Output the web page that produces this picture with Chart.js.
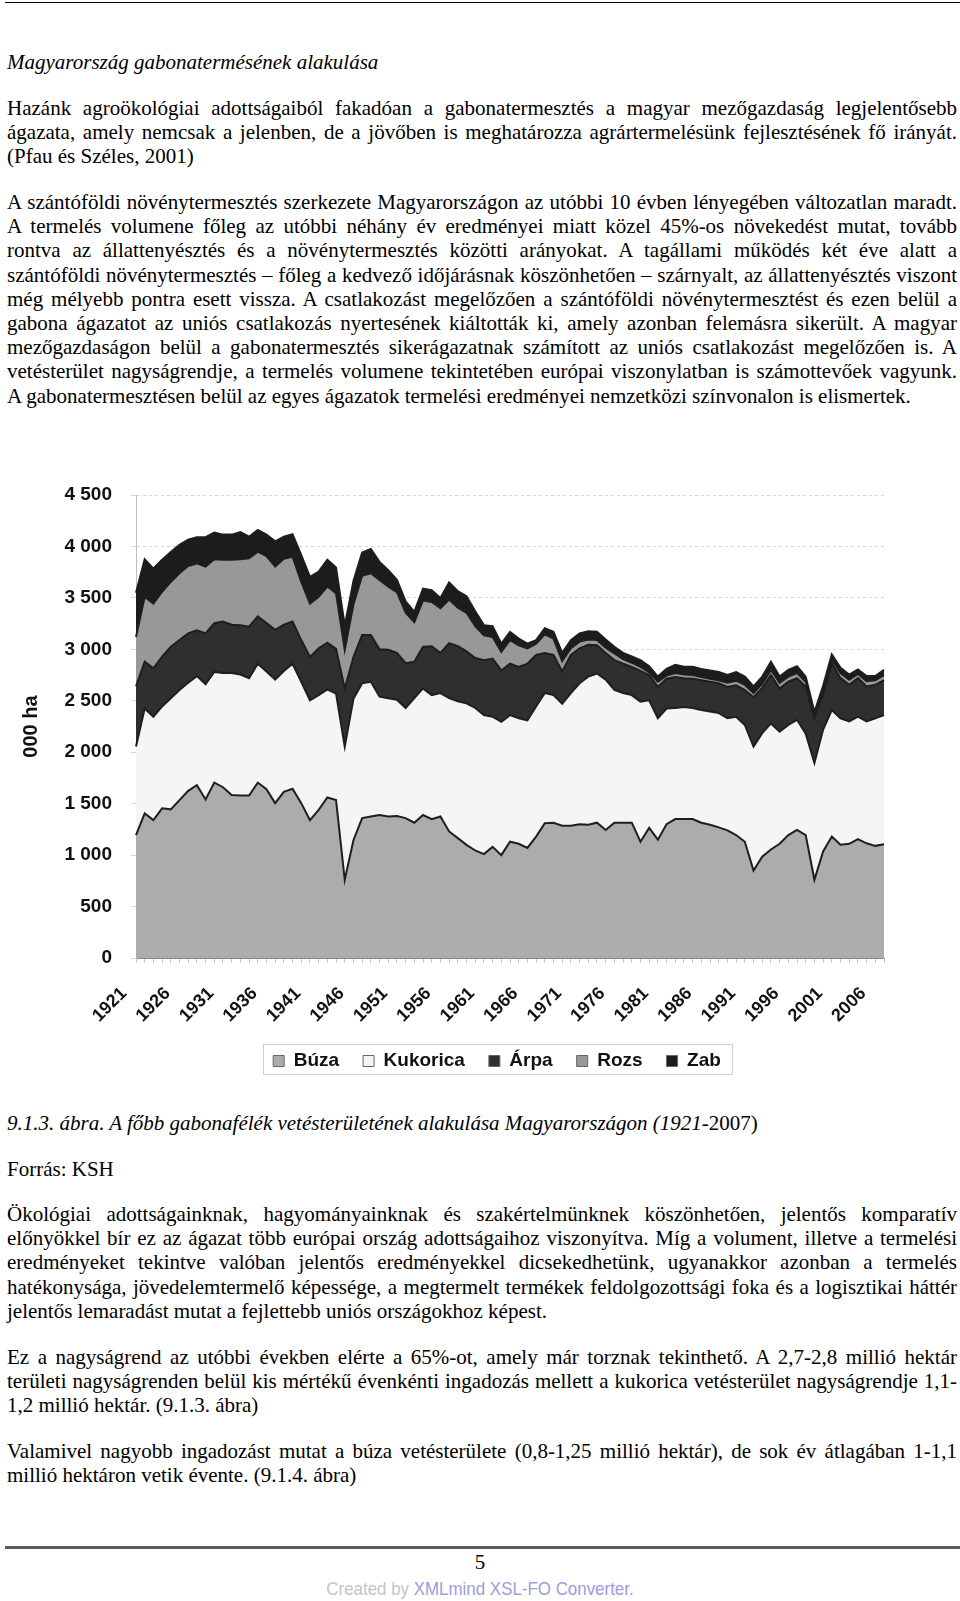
<!DOCTYPE html>
<html lang="hu">
<head>
<meta charset="utf-8">
<title>Magyarország gabonatermésének alakulása</title>
<script src="https://cdn.jsdelivr.net/npm/chart.js@4.4.1/dist/chart.umd.min.js"></script>
<style>
  html, body { margin: 0; padding: 0; background: #fff; }
  body {
    width: 960px; height: 1601px; position: relative; overflow: hidden;
    font-family: "Liberation Serif", "Times New Roman", serif; font-size: 21px; color: #000;
  }
  .rule { position: absolute; left: 5px; width: 955px; }
  .blk { position: absolute; left: 7px; width: 950px; line-height: 24.2px; }
  .blk div { text-align: justify; text-align-last: justify; }
  .blk div.last { text-align-last: left; }
  #chartBox { position: absolute; left: 0; top: 440px; width: 960px; height: 647px; }
  .foot { position: absolute; left: 0; width: 960px; text-align: center; }
  .made {
    font-family: "Liberation Sans", Arial, sans-serif; font-size: 19px; color: #c4c4c4;
    transform: scaleX(0.89); transform-origin: 480px 0;
  }
  .made span { color: #9c9cdc; }
</style>
</head>
<body>

<div class="rule" style="top:2px; height:1px; background:#000;"></div>

<div class="blk" style="top:50px;"><div class="last"><i>Magyarország gabonatermésének alakulása</i></div></div>

<div class="blk" style="top:96px;">
  <div>Hazánk agroökológiai adottságaiból fakadóan a gabonatermesztés a magyar mezőgazdaság legjelentősebb</div>
  <div>ágazata, amely nemcsak a jelenben, de a jövőben is meghatározza agrártermelésünk fejlesztésének fő irányát.</div>
  <div class="last">(Pfau és Széles, 2001)</div>
</div>

<div class="blk" style="top:190px;">
  <div>A szántóföldi növénytermesztés szerkezete Magyarországon az utóbbi 10 évben lényegében változatlan maradt.</div>
  <div>A termelés volumene főleg az utóbbi néhány év eredményei miatt közel 45%-os növekedést mutat, tovább</div>
  <div>rontva az állattenyésztés és a növénytermesztés közötti arányokat. A tagállami működés két éve alatt a</div>
  <div>szántóföldi növénytermesztés – főleg a kedvező időjárásnak köszönhetően – szárnyalt, az állattenyésztés viszont</div>
  <div>még mélyebb pontra esett vissza. A csatlakozást megelőzően a szántóföldi növénytermesztést és ezen belül a</div>
  <div>gabona ágazatot az uniós csatlakozás nyertesének kiáltották ki, amely azonban felemásra sikerült. A magyar</div>
  <div>mezőgazdaságon belül a gabonatermesztés sikerágazatnak számított az uniós csatlakozást megelőzően is. A</div>
  <div>vetésterület nagyságrendje, a termelés volumene tekintetében európai viszonylatban is számottevőek vagyunk.</div>
  <div class="last">A gabonatermesztésen belül az egyes ágazatok termelési eredményei nemzetközi színvonalon is elismertek.</div>
</div>

<div id="chartBox"><canvas id="grainChart" width="960" height="647"></canvas></div>

<div class="blk" style="top:1111px;"><div class="last"><i>9.1.3. ábra. A főbb gabonafélék vetésterületének alakulása Magyarországon (1921-</i>2007)</div></div>
<div class="blk" style="top:1157px;"><div class="last">Forrás: KSH</div></div>

<div class="blk" style="top:1202px;">
  <div>Ökológiai adottságainknak, hagyományainknak és szakértelmünknek köszönhetően, jelentős komparatív</div>
  <div>előnyökkel bír ez az ágazat több európai ország adottságaihoz viszonyítva. Míg a volument, illetve a termelési</div>
  <div>eredményeket tekintve valóban jelentős eredményekkel dicsekedhetünk, ugyanakkor azonban a termelés</div>
  <div>hatékonysága, jövedelemtermelő képessége, a megtermelt termékek feldolgozottsági foka és a logisztikai háttér</div>
  <div class="last">jelentős lemaradást mutat a fejlettebb uniós országokhoz képest.</div>
</div>

<div class="blk" style="top:1345px;">
  <div>Ez a nagyságrend az utóbbi években elérte a 65%-ot, amely már torznak tekinthető. A 2,7-2,8 millió hektár</div>
  <div>területi nagyságrenden belül kis mértékű évenkénti ingadozás mellett a kukorica vetésterület nagyságrendje 1,1-</div>
  <div class="last">1,2 millió hektár. (9.1.3. ábra)</div>
</div>

<div class="blk" style="top:1439px;">
  <div>Valamivel nagyobb ingadozást mutat a búza vetésterülete (0,8-1,25 millió hektár), de sok év átlagában 1-1,1</div>
  <div class="last">millió hektáron vetik évente. (9.1.4. ábra)</div>
</div>

<div class="rule" style="top:1546px; height:3px; background:#5a5a5a;"></div>
<div class="foot" style="top:1550px; line-height:24px;">5</div>
<div class="foot made" style="top:1578px; line-height:22px;">Created by <span>XMLmind XSL-FO Converter.</span></div>

<script>
// vetésterület, ezer ha (1921-2007)
const years = [
  1921, 1922, 1923, 1924, 1925, 1926, 1927, 1928, 1929, 1930,
  1931, 1932, 1933, 1934, 1935, 1936, 1937, 1938, 1939, 1940,
  1941, 1942, 1943, 1944, 1945, 1946, 1947, 1948, 1949, 1950,
  1951, 1952, 1953, 1954, 1955, 1956, 1957, 1958, 1959, 1960,
  1961, 1962, 1963, 1964, 1965, 1966, 1967, 1968, 1969, 1970,
  1971, 1972, 1973, 1974, 1975, 1976, 1977, 1978, 1979, 1980,
  1981, 1982, 1983, 1984, 1985, 1986, 1987, 1988, 1989, 1990,
  1991, 1992, 1993, 1994, 1995, 1996, 1997, 1998, 1999, 2000,
  2001, 2002, 2003, 2004, 2005, 2006, 2007
];

const buza = [
  1195, 1405, 1340, 1455, 1445, 1535, 1625, 1680, 1540, 1705,
  1660, 1585, 1580, 1580, 1705, 1640, 1505, 1615, 1645, 1505,
  1340, 1440, 1560, 1535, 760, 1145, 1360, 1375, 1390, 1375,
  1380, 1360, 1315, 1390, 1350, 1375, 1230, 1165, 1100, 1045,
  1010, 1080, 1000, 1130, 1110, 1070, 1180, 1310, 1315, 1285,
  1285, 1300, 1295, 1315, 1245, 1315, 1315, 1315, 1130, 1265,
  1150, 1300, 1350, 1350, 1350, 1315, 1295, 1270, 1240, 1195,
  1130, 850, 985, 1055, 1110, 1195, 1245, 1195, 760, 1035,
  1180, 1100, 1110, 1155, 1115, 1090, 1105
];

const kukorica = [
  860, 1020, 1005, 990, 1080, 1070, 1050, 1060, 1120, 1075,
  1110, 1185, 1175, 1140, 1155, 1145, 1200, 1175, 1215, 1180,
  1165, 1115, 1050, 1035, 1295, 1375, 1310, 1310, 1150, 1150,
  1130, 1070, 1210, 1230, 1205, 1200, 1295, 1330, 1375, 1385,
  1350, 1265, 1295, 1230, 1220, 1240, 1265, 1265, 1240, 1185,
  1290, 1370, 1440, 1450, 1460, 1290, 1260, 1240, 1360, 1240,
  1180, 1125, 1080, 1090, 1080, 1095, 1100, 1110, 1090, 1150,
  1135, 1205, 1200, 1225, 1090, 1070, 1070, 985, 1135, 1185,
  1230, 1230, 1190, 1190, 1185, 1240, 1255
];

const arpa = [
  585, 455, 470, 485, 500, 485, 480, 445, 495, 475,
  500, 470, 480, 500, 460, 470, 485, 450, 410, 405,
  420, 455, 455, 435, 565, 405, 470, 455, 460, 470,
  455, 435, 355, 405, 475, 390, 535, 535, 505, 485,
  535, 565, 500, 500, 500, 550, 500, 390, 390, 315,
  370, 340, 310, 275, 260, 290, 285, 275, 300, 245,
  305, 290, 300, 280, 285, 290, 290, 290, 305, 305,
  340, 480, 440, 470, 420, 420, 405, 455, 440, 340,
  455, 390, 355, 375, 340, 325, 340
];

const rozs = [
  480, 630, 630, 630, 630, 650, 655, 650, 650, 620,
  600, 630, 640, 665, 630, 650, 615, 640, 630, 565,
  520, 500, 545, 540, 375, 510, 575, 600, 675, 615,
  590, 490, 385, 450, 430, 435, 425, 375, 375, 310,
  240, 210, 180, 230, 210, 150, 110, 180, 160, 100,
  65, 65, 50, 50, 50, 65, 45, 40, 40, 25,
  50, 30, 40, 35, 35, 30, 30, 30, 40, 45,
  50, 40, 40, 50, 55, 50, 50, 50, 20, 35,
  35, 50, 50, 40, 50, 45, 50
];

const zab = [
  430, 365, 340, 310, 290, 275, 255, 255, 285, 260,
  245, 245, 265, 210, 210, 210, 245, 215, 220, 260,
  260, 245, 260, 250, 235, 230, 225, 235, 175, 160,
  120, 110, 100, 115, 115, 100, 165, 160, 160, 145,
  100, 105, 80, 80, 65, 45, 35, 60, 65, 80,
  80, 80, 80, 80, 80, 65, 60, 60, 65, 60,
  50, 65, 80, 75, 80, 80, 80, 80, 75, 85,
  80, 65, 70, 80, 60, 65, 65, 50, 35, 50,
  50, 50, 50, 45, 50, 40, 50
];

const labelFont = { family: '"Liberation Sans", Arial, sans-serif', weight: 'bold' };

function createArea(label, data, color, fill) {
    return {
        label: label,
        data: data,
        backgroundColor: color,
        borderColor: "#1e1e1e",
        borderWidth: 2,
        pointRadius: 0,
        tension: 0,
        fill: fill
    };
}

function thousands(v) {
    if (v < 1000) { return String(v) }
    return Math.floor(v / 1000) + " " + String(v % 1000).padStart(3, "0");
}

// moves the legend under the plot like in the original and draws its frame
const legendFrame = {
    id: "legendFrame",
    afterLayout(chart) {
        const lg = chart.legend;
        const dx = 497 - (lg.left + lg.right) / 2;
        const dy = 587.5 - lg.top;
        lg.left += dx; lg.right += dx;
        lg.top += dy; lg.bottom += dy;
    },
    afterDraw(chart) {
        const ctx = chart.ctx;
        ctx.save();
        ctx.strokeStyle = "#cfcfcf";
        ctx.lineWidth = 1;
        ctx.strokeRect(263.5, 604.5, 469, 30);
        ctx.restore();
    }
};

const ctx = document.getElementById("grainChart").getContext("2d");

new Chart(ctx, {
    type: "line",
    data: {
        labels: years,
        datasets: [
            createArea("Búza", buza, "#acacac", "origin"),
            createArea("Kukorica", kukorica, "#f5f5f5", "-1"),
            createArea("Árpa", arpa, "#2f2f2f", "-1"),
            createArea("Rozs", rozs, "#989898", "-1"),
            createArea("Zab", zab, "#1c1c1c", "-1")
        ]
    },
    options: {
        responsive: false,
        animation: false,
        layout: { padding: { left: 0, right: 76, top: 55, bottom: 0 } },
        plugins: {
            tooltip: { enabled: false },
            legend: {
                position: "bottom",
                labels: {
                    color: "#111",
                    font: Object.assign({ size: 19 }, labelFont),
                    boxWidth: 11,
                    boxHeight: 11,
                    padding: 24,
                    generateLabels: function(chart) {
                        return Chart.defaults.plugins.legend.labels.generateLabels(chart).map(function(item) {
                            item.lineWidth = 1;
                            item.strokeStyle = "#666";
                            return item;
                        });
                    }
                }
            }
        },
        scales: {
            x: {
                type: "category",
                offset: false,
                afterFit: function(scale) { scale.height = 76 },
                grid: { display: true, drawOnChartArea: false, drawTicks: true, tickLength: 5, color: "#c4c4c4" },
                border: { display: true, color: "#8a8a8a" },
                ticks: {
                    autoSkip: false,
                    maxRotation: 45,
                    minRotation: 45,
                    padding: 20,
                    labelOffset: -12,
                    color: "#111",
                    font: Object.assign({ size: 18 }, labelFont),
                    callback: function(value, index) {
                        return (years[index] - 1921) % 5 === 0 ? String(years[index]) : "";
                    }
                }
            },
            y: {
                stacked: true,
                min: 0,
                max: 4500,
                afterFit: function(scale) { scale.width = 136 },
                grid: { color: "#d6d6d6", tickLength: 5 },
                border: { display: true, color: "#bdbdbd", dash: [3, 3] },
                ticks: {
                    stepSize: 500,
                    padding: 19,
                    color: "#111",
                    font: Object.assign({ size: 19 }, labelFont),
                    callback: function(value) { return thousands(value) }
                },
                title: {
                    display: true,
                    text: "000 ha",
                    color: "#111",
                    font: Object.assign({ size: 20 }, labelFont),
                    padding: { top: 19, bottom: 0 }
                }
            }
        }
    },
    plugins: [legendFrame]
});
</script>
</body>
</html>
